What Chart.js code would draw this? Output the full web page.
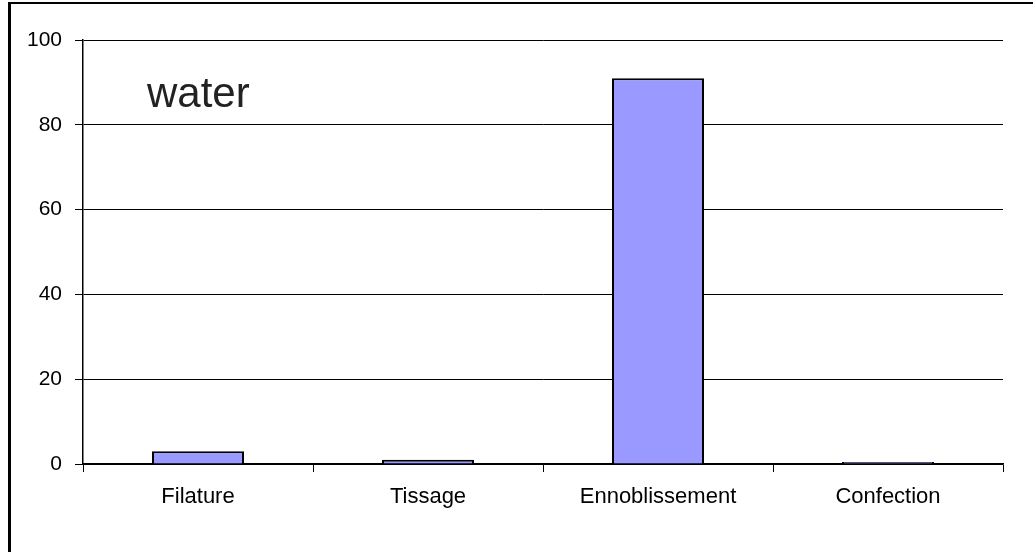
<!DOCTYPE html>
<html>
<head>
<meta charset="utf-8">
<script src="https://cdn.jsdelivr.net/npm/chart.js@4/dist/chart.umd.min.js"></script>
<style>
  html, body { margin: 0; padding: 0; background: #fff; }
  #wrap { position: relative; width: 1033px; height: 552px; overflow: hidden; }
  #frame { position: absolute; left: 8px; top: 2px; width: 1100px; height: 600px;
           border-left: 3px solid #000; border-top: 2px solid #000; }
  #c { position: absolute; left: 0; top: 0; }
</style>
</head>
<body>
<div id="wrap">
  <div id="frame"></div>
  <canvas id="c" width="1033" height="552"></canvas>
</div>
<script>
// Water share by production stage
const categories = ['Filature', 'Tissage', 'Ennoblissement', 'Confection'];
const waterValues = [3, 1, 91, 0.5];
const yTicks = [0, 20, 40, 60, 80, 100];
const panelLabel = 'water';

const FONT = '"Liberation Sans", Arial, sans-serif';

const labelPlugin = {
  id: 'panelLabel',
  afterDraw(chart) {
    const ctx = chart.ctx;
    ctx.save();
    ctx.font = '42px ' + FONT;
    ctx.fillStyle = '#222';
    ctx.textBaseline = 'alphabetic';
    ctx.textAlign = 'left';
    ctx.fillText(panelLabel, 147, 107);
    ctx.restore();
  }
};

new Chart(document.getElementById('c'), {
  type: 'bar',
  data: {
    labels: categories,
    datasets: [{
      data: waterValues,
      backgroundColor: '#9999ff',
      borderColor: '#000',
      borderWidth: 2,
      borderSkipped: 'bottom',
      categoryPercentage: 1,
      barPercentage: 0.4
    }]
  },
  options: {
    responsive: false,
    animation: false,
    devicePixelRatio: 1,
    layout: { padding: { top: 40, right: 30, left: 0, bottom: 0 } },
    plugins: { legend: { display: false }, tooltip: { enabled: false } },
    scales: {
      x: {
        offset: true,
        grid: { offset: true, drawOnChartArea: false, drawTicks: true, tickLength: 8, color: '#000', lineWidth: 1 },
        border: { display: true, color: '#000', width: 1.5 },
        ticks: { color: '#000', font: { family: FONT, size: 22 }, padding: 12, maxRotation: 0 },
        afterFit(s) { s.height = 88; }
      },
      y: {
        min: 0, max: 100,
        afterBuildTicks(s) { s.ticks = yTicks.map(v => ({ value: v })); },
        grid: { color: '#000', lineWidth: 1, drawTicks: true, tickLength: 8 },
        border: { display: true, color: '#000', width: 1.5 },
        ticks: { color: '#000', font: { family: FONT, size: 21 }, padding: 13 },
        afterFit(s) { s.width = 83; }
      }
    }
  },
  plugins: [labelPlugin]
});
</script>
</body>
</html>
